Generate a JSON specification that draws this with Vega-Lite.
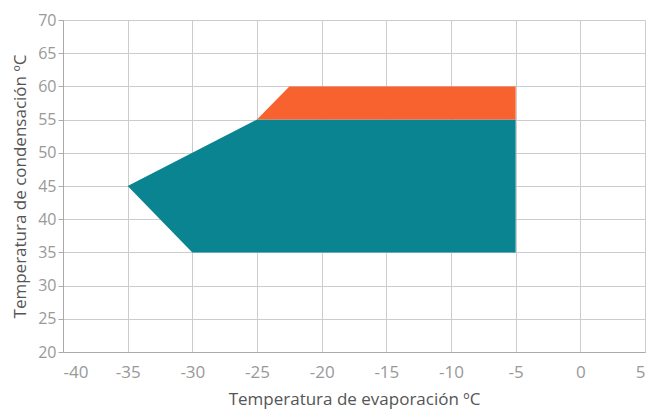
{
  "$schema": "https://vega.github.io/schema/vega-lite/v6.json",
  "width": 582,
  "height": 332,
  "autosize": "none",
  "padding": {"left": 63, "top": 20, "right": 6, "bottom": 58},
  "background": "white",
  "config": {
    "view": {"stroke": null},
    "font": "Open Sans",
    "axis": {
      "gridColor": "#cccccc",
      "gridWidth": 1,
      "domainColor": "#aaaaaa",
      "tickColor": "#aaaaaa",
      "labelColor": "#999999",
      "labelFontSize": 16,
      "titleColor": "#555555",
      "titleFontSize": 17,
      "titleFontWeight": "normal",
      "labelFont": "Open Sans",
      "titleFont": "Open Sans",
      "labelOverlap": false,
      "labelExpr": "'' + datum.value"
    }
  },
  "datasets": {
    "teal": [
      {"x": -35, "lo": 45, "hi": 45},
      {"x": -30, "lo": 35, "hi": 50},
      {"x": -25, "lo": 35, "hi": 55},
      {"x": -5, "lo": 35, "hi": 55}
    ],
    "orange": [
      {"x": -25, "lo": 55, "hi": 55},
      {"x": -22.5, "lo": 55, "hi": 60},
      {"x": -5, "lo": 55, "hi": 60}
    ]
  },
  "encoding": {
    "x": {"field": "x", "type": "quantitative", "scale": {"domain": [-40, 5], "nice": false},
          "axis": {"values": [-40,-35,-30,-25,-20,-15,-10,-5,0,5], "title": "Temperatura de evaporación ºC", "tickSize": 0, "labelPadding": 12, "labelFontSize": 17, "titlePadding": 11}},
    "y": {"field": "lo", "type": "quantitative", "scale": {"domain": [20, 70], "nice": false},
          "axis": {"values": [20,25,30,35,40,45,50,55,60,65,70], "title": "Temperatura de condensación ºC", "tickSize": 5, "labelPadding": 2, "titlePadding": 8}},
    "y2": {"field": "hi"}
  },
  "layer": [
    {
      "data": {"name": "teal"},
      "mark": {"type": "area", "color": "#0a8491", "opacity": 1}
    },
    {
      "data": {"name": "orange"},
      "mark": {"type": "area", "color": "#f7622f", "opacity": 1}
    }
  ]
}
